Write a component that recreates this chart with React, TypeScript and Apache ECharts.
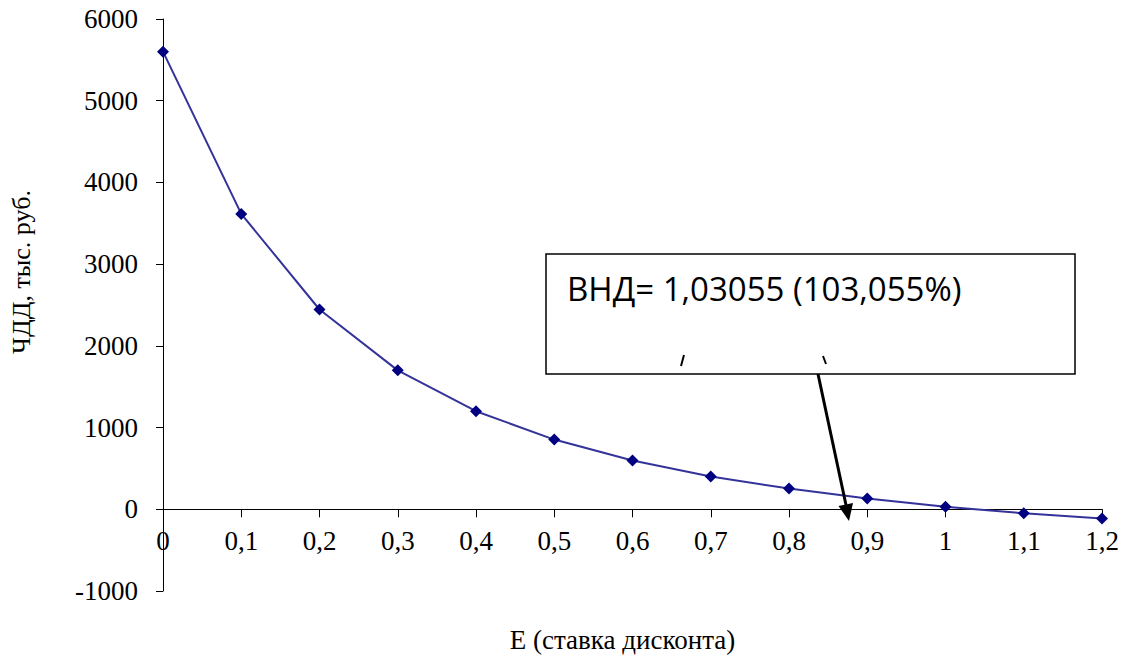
import React, { useEffect, useRef } from "react";
import * as echarts from "echarts";

const categories = ["0", "0,1", "0,2", "0,3", "0,4", "0,5", "0,6", "0,7", "0,8", "0,9", "1", "1,1", "1,2"];
const npvValues = [5600, 3615, 2445, 1700, 1200, 853, 596, 400, 253, 131, 30, -49, -114];
const yMin = -1000;
const yMax = 6000;
const yStep = 1000;
const yTitle = "ЧДД, тыс. руб.";
const xTitle = "Е (ставка дисконта)";
const noteText = "ВНД= 1,03055 (103,055%)";

export default function App() {
  const ref = useRef<HTMLDivElement>(null);
  useEffect(() => {
    document.body.style.margin = "0";
    const chart = echarts.init(ref.current!, null, { renderer: "svg" });
    const serif = "Liberation Serif";
    const gridTop = 19;
    const gridBottom = 71;
    const gridH = 662 - gridTop - gridBottom;
    const zeroOffset = -(gridH * (0 - yMin)) / (yMax - yMin);
    const tickText = { color: "#000", fontFamily: serif, fontSize: 27, fontWeight: "normal" };
    chart.setOption({
      animation: false,
      backgroundColor: "#ffffff",
      textStyle: { fontFamily: serif },
      grid: { left: 163, right: 31, top: gridTop, bottom: gridBottom, containLabel: false, outerBoundsMode: "none" },
      xAxis: {
        type: "category",
        data: categories,
        boundaryGap: false,
        position: "bottom",
        offset: zeroOffset,
        axisLine: { onZero: false, lineStyle: { color: "#000", width: 1 } },
        axisTick: { show: true, alignWithLabel: true, length: 8, lineStyle: { color: "#000" } },
        axisLabel: { ...tickText, margin: 18, interval: 0, hideOverlap: false },
        splitLine: { show: false },
        name: xTitle,
        nameLocation: "middle",
        nameGap: 117,
        nameTextStyle: { color: "#000", fontFamily: serif, fontSize: 27, padding: [0, 20, 0, 0] },
      },
      yAxis: {
        type: "value",
        min: yMin,
        max: yMax,
        interval: yStep,
        axisLine: { show: true, onZero: false, lineStyle: { color: "#000", width: 1 } },
        axisTick: { show: true, length: 7, lineStyle: { color: "#000" } },
        axisLabel: {
          ...tickText,
          margin: 25,
          hideOverlap: false,
          formatter: (v: number) => String(v),
        },
        splitLine: { show: false },
        name: yTitle,
        nameLocation: "middle",
        nameGap: 129,
        nameRotate: 90,
        nameTextStyle: { color: "#000", fontFamily: serif, fontSize: 26, padding: [0, 0, 0, 66] },
      },
      series: [
        {
          type: "line",
          data: npvValues,
          symbol: "diamond",
          symbolSize: 12,
          lineStyle: { color: "#333399", width: 2 },
          itemStyle: { color: "#000080" },
        },
      ],
      graphic: [
        {
          type: "rect",
          shape: { x: 546, y: 254, width: 529, height: 120 },
          style: { fill: "#fff", stroke: "#000", lineWidth: 1.5 },
          z: 10,
        },
        {
          type: "text",
          x: 567,
          y: 288,
          style: {
            text: noteText,
            fill: "#000",
            font: "33px 'Open Sans', 'Liberation Sans', sans-serif",
            verticalAlign: "middle",
            align: "left",
          },
          z: 11,
        },
        {
          type: "line",
          shape: { x1: 684, y1: 355, x2: 681, y2: 366 },
          style: { stroke: "#000", lineWidth: 2 },
          z: 11,
        },
        {
          type: "line",
          shape: { x1: 823, y1: 356, x2: 826, y2: 364 },
          style: { stroke: "#000", lineWidth: 2 },
          z: 11,
        },
        {
          type: "line",
          shape: { x1: 818, y1: 374, x2: 846, y2: 505 },
          style: { stroke: "#000", lineWidth: 3 },
          z: 12,
        },
        {
          type: "polygon",
          shape: { points: [[838.5, 506], [853, 503], [849, 521]] },
          style: { fill: "#000" },
          z: 12,
        },
      ],
    });
    return () => chart.dispose();
  }, []);
  return <div ref={ref} style={{ width: 1133, height: 662 }} />;
}
